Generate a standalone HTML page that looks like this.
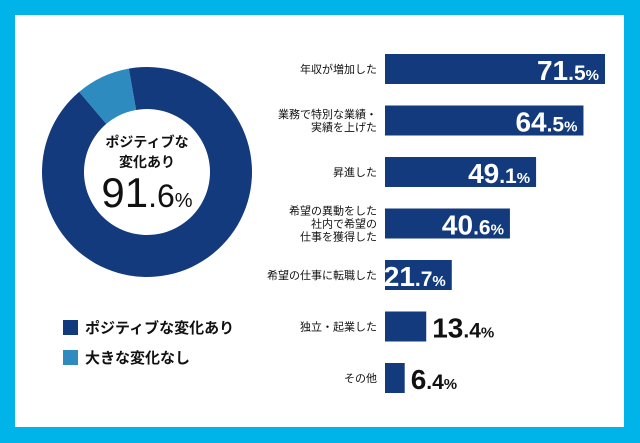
<!DOCTYPE html>
<html><head><meta charset="utf-8"><style>
html,body{margin:0;padding:0;width:640px;height:443px;overflow:hidden;background:#00b4ea}
svg{display:block}
text{font-family:"Liberation Sans","Noto Sans CJK JP",sans-serif}
.num{font-family:"Liberation Sans Narrow","Liberation Sans",sans-serif;font-weight:bold}
</style></head><body>
<svg id="chart" width="640" height="443" viewBox="0 0 640 443">
<rect x="15" y="15" width="609" height="412" fill="#fff"/>
<g id="donut"></g>
<text x="147" y="147" text-anchor="middle" font-size="14" font-weight="bold" fill="#111">ポジティブな</text>
<text x="147" y="167" text-anchor="middle" font-size="14" font-weight="bold" fill="#111">変化あり</text>
<text x="147" y="207" text-anchor="middle" fill="#111" class="num" style="font-weight:normal"><tspan font-size="42">91</tspan><tspan font-size="32">.6</tspan><tspan font-size="20">%</tspan></text>
<g>
<rect x="63" y="320" width="15" height="15" fill="#133a7c"/>
<text x="85" y="333" font-size="15" font-weight="bold" fill="#111">ポジティブな変化あり</text>
<rect x="63" y="350" width="15" height="15" fill="#2e8bc0"/>
<text x="85" y="363" font-size="15" font-weight="bold" fill="#111">大きな変化なし</text>
</g>
<g id="bars"></g>
</svg>
<script>
const donutLabels=["ポジティブな変化あり","大きな変化なし"];
const donutValues=[91.6,8.4];
const categories=[["年収が増加した"],["業務で特別な業績・","実績を上げた"],["昇進した"],["希望の異動をした","社内で希望の","仕事を獲得した"],["希望の仕事に転職した"],["独立・起業した"],["その他"]];
const values=[71.5,64.5,49.1,40.6,21.7,13.4,6.4];
const NS="http://www.w3.org/2000/svg";
function mk(t,a){const e=document.createElementNS(NS,t);for(const k in a)e.setAttribute(k,a[k]);return e;}
// donut
const cx=147,cy=172,R=105,r=63;
const dg=document.getElementById('donut');
const colors=["#133a7c","#2e8bc0"];
const total=donutValues.reduce((a,b)=>a+b,0);
let start=-10-360*donutValues[0]/total+360; // positive slice ends at -10deg (from top), i.e. starts at -10
let ang=-10;
function pt(a,rad){const t=(a-90)*Math.PI/180;return [cx+rad*Math.cos(t),cy+rad*Math.sin(t)];}
donutValues.forEach((v,i)=>{
  const sweep=360*v/total;const a0=ang,a1=ang+sweep;ang=a1;
  const large=sweep>180?1:0;
  const p0=pt(a0,R),p1=pt(a1,R),q1=pt(a1,r),q0=pt(a0,r);
  const p=mk('path',{d:`M${p0[0]},${p0[1]} A${R},${R} 0 ${large} 1 ${p1[0]},${p1[1]} L${q1[0]},${q1[1]} A${r},${r} 0 ${large} 0 ${q0[0]},${q0[1]} Z`,fill:colors[i]});
  
  
  dg.appendChild(p);
});
// bars
const bg=document.getElementById('bars');
const x0=385,scale=3.077,y0=54,pitch=51.5,bh=30;
function xs(v){return v*scale;}
function yb(i){return y0+i*pitch;}
values.forEach((v,i)=>{
  const w=xs(v),y=yb(i);
  const rect=mk('rect',{x:x0,y:y,width:w,height:bh,fill:"#133a7c"});
  
  
  bg.appendChild(rect);
  const lines=categories[i];const lh=13;
  const ty=y+bh/2+4-(lines.length-1)*lh/2;
  lines.forEach((s,j)=>{
    const t=mk('text',{x:377,y:ty+j*lh,'text-anchor':'end','font-size':'11',fill:'#111'});
    t.textContent=s;
    
    
    bg.appendChild(t);
  });
  const inside=v>20;
  const parts=v.toFixed(1).split('.');
  const vt=mk('text',{x:inside?x0+w-6:x0+w+6,y:y+bh-4,'text-anchor':inside?'end':'start',fill:inside?'#fff':'#111',class:'num'});
  
  
  const a=mk('tspan',{'font-size':'28'});a.textContent=parts[0];
  const b=mk('tspan',{'font-size':'21'});b.textContent='.'+parts[1];
  const c=mk('tspan',{'font-size':'15'});c.textContent='%';
  vt.appendChild(a);vt.appendChild(b);vt.appendChild(c);
  bg.appendChild(vt);
});
</script>
</body></html>
